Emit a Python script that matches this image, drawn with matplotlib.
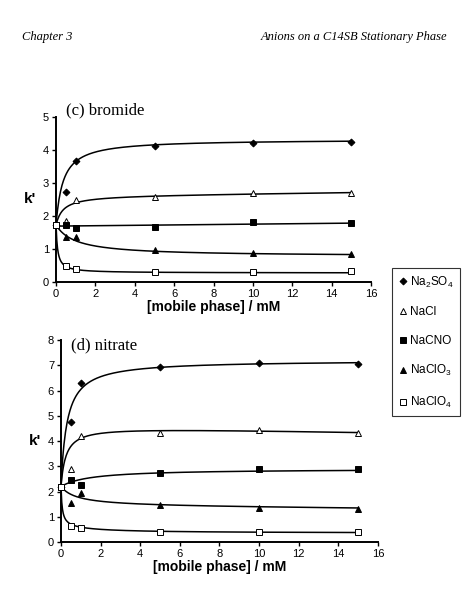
import numpy as np
import matplotlib
matplotlib.use("Agg")
import matplotlib.pyplot as plt

plt.rcParams["font.family"] = ["Liberation Sans", "DejaVu Sans"]
plt.rcParams["mathtext.default"] = "regular"

conc = [0, 0.5, 1, 5, 10, 15]
salts = ["Na$_2$SO$_4$", "NaCl", "NaCNO", "NaClO$_3$", "NaClO$_4$"]

# (c) bromide, k' values
br_na2so4 = [1.72, 2.72, 3.65, 4.12, 4.22, 4.25]
br_nacl = [1.72, 1.85, 2.48, 2.58, 2.68, 2.68]
br_nacno = [1.72, 1.72, 1.63, 1.65, 1.82, 1.78]
br_naclo3 = [1.72, 1.35, 1.35, 0.98, 0.88, 0.85]
br_naclo4 = [1.72, 0.47, 0.40, 0.30, 0.30, 0.32]

# (d) nitrate
no3_na2so4 = [2.2, 4.75, 6.3, 6.95, 7.08, 7.05]
no3_nacl = [2.2, 2.9, 4.2, 4.3, 4.45, 4.3]
no3_nacno = [2.2, 2.45, 2.25, 2.75, 2.9, 2.88]
no3_naclo3 = [2.2, 1.55, 1.95, 1.45, 1.35, 1.3]
no3_naclo4 = [2.2, 0.65, 0.55, 0.4, 0.4, 0.4]

# fitted trend lines: y0 + A*x/(K+x) + B*x/(K2+x) + s*x
br_fit = [
    (1.72, 2.6, 0.35, 0.0, 1.0, 0.0),
    (1.72, 0.9, 0.35, 0.0, 1.0, 0.007),
    (1.69, 0.0, 1.0, 0.0, 1.0, 0.006),
    (1.72, -0.95, 1.0, 0.0, 1.0, 0.0),
    (1.72, -1.45, 0.08, 0.0, 1.0, 0.0),
]
no3_fit = [
    (2.2, 5.0, 0.3, 0.0, 1.0, 0.0),
    (2.2, 2.4, 0.25, 0.0, 1.0, -0.015),
    (2.2, 0.7, 1.5, 0.0, 1.0, 0.0),
    (2.2, -0.8, 0.8, 0.0, 1.0, -0.006),
    (2.2, -1.6, 0.06, -0.25, 1.5, 0.0),
]

markers = [
    dict(marker="D", ms=3.5, mfc="black"),
    dict(marker="^", ms=4.5, mfc="white"),
    dict(marker="s", ms=4.5, mfc="black"),
    dict(marker="^", ms=4.5, mfc="black"),
    dict(marker="s", ms=4.5, mfc="white"),
]


def trend(p, x):
    y0, a, k, b, k2, s = p
    return y0 + a * x / (k + x) + b * x / (k2 + x) + s * x


def panel(ax, series, fits, ymax, title, title_y):
    xs = np.linspace(0, 15, 400)
    for vals, p, m, lab in zip(series, fits, markers, salts):
        ax.plot(xs, trend(p, xs), color="black", lw=1.1)
        ax.plot(conc, vals, ls="none", mec="black", mew=0.7, label=lab,
                clip_on=False, zorder=3, **m)
    ax.set_xlim(0, 16)
    ax.set_ylim(0, ymax)
    ax.set_xticks(range(0, 17, 2))
    ax.set_yticks(range(0, ymax + 1))
    for side in ["top", "right"]:
        ax.spines[side].set_visible(False)
    for side in ["left", "bottom"]:
        ax.spines[side].set_linewidth(1.4)
    ax.tick_params(labelsize=8, length=3, width=1, pad=2)
    ax.set_xlabel("[mobile phase] / mM", fontsize=10, fontweight="bold",
                  labelpad=1)
    ax.set_ylabel("k'", fontsize=11, fontweight="bold", rotation=0,
                  labelpad=9, va="center")
    ax.text(0.03, title_y, title, transform=ax.transAxes, fontsize=12,
            family=["Liberation Serif"], va="center")


fig = plt.figure(figsize=(4.71, 6.05), dpi=100)
ax1 = fig.add_axes([0.119, 0.534, 0.669, 0.273])
ax2 = fig.add_axes([0.1295, 0.104, 0.673, 0.334])

panel(ax1, [br_na2so4, br_nacl, br_nacno, br_naclo3, br_naclo4], br_fit,
      5, "(c) bromide", 1.04)
panel(ax2, [no3_na2so4, no3_nacl, no3_nacno, no3_naclo3, no3_naclo4],
      no3_fit, 8, "(d) nitrate", 0.975)

handles, labels = ax1.get_legend_handles_labels()
leg = fig.legend(handles, labels, loc="upper left",
                 bbox_to_anchor=(0.832, 0.557), frameon=True, fancybox=False,
                 edgecolor="black", fontsize=8.5, labelspacing=1.4,
                 handletextpad=0.2, handlelength=0.8, borderpad=0.55,
                 borderaxespad=0, handleheight=0.7)
leg.get_frame().set_linewidth(0.8)

fig.text(0.047, 0.939, "Chapter 3", fontsize=9, style="italic",
         family=["Liberation Serif"], va="center")
fig.text(0.949, 0.939, "Anions on a C14SB Stationary Phase", fontsize=9,
         style="italic", family=["Liberation Serif"], va="center", ha="right")

fig.savefig("out.png", dpi=100)
